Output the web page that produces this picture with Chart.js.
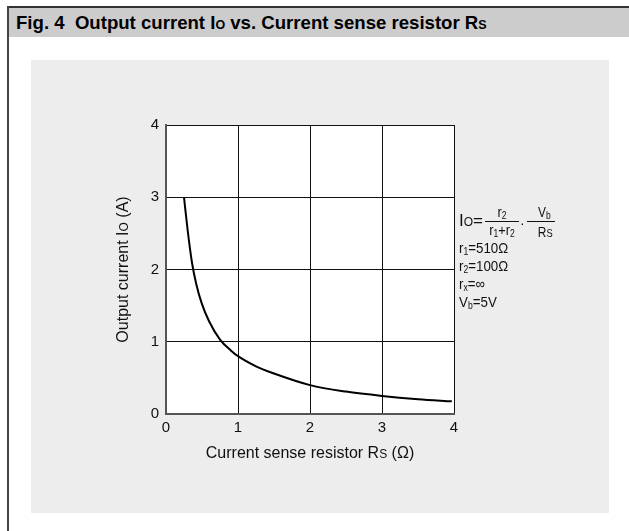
<!DOCTYPE html>
<html>
<head>
<meta charset="utf-8">
<script src="https://cdn.jsdelivr.net/npm/chart.js@4.4.1/dist/chart.umd.min.js"></script>
<style>
  html, body { margin: 0; padding: 0; background: #fff; width: 629px; height: 531px; overflow: hidden; }
  body { position: relative; font-family: "Liberation Sans", Arial, sans-serif; color: #111; }
  #topline { position: absolute; left: 7px; top: 6px; width: 622px; height: 2px; background: #333; }
  #leftline { position: absolute; left: 7px; top: 6px; width: 2px; height: 525px; background: #444; }
  #titlebar { position: absolute; left: 9px; top: 8px; width: 620px; height: 29px; background: #cccccc;
              font-weight: bold; font-size: 18.6px; line-height: 30px; color: #000; box-sizing: border-box; padding-left: 7px; white-space: pre; }
  #titlebar .s { font-size: 12.5px; }
  #panel { position: absolute; left: 31px; top: 60px; width: 578px; height: 453px; background: #ededed; }
  #panel canvas { position: absolute; left: 0; top: 0; }
  .a { position: absolute; white-space: nowrap; color: #111; }
  .a sub { font-size: 10px; vertical-align: baseline; position: relative; top: 2px; }
  .fr { font-size: 15px; line-height: 14px; text-align: center; transform: scaleX(0.85); }
  .fv { font-size: 14px; line-height: 14px; text-align: center; transform: scaleX(0.85); }
  .bar { position: absolute; height: 1px; background: #111; }
  .ln { font-size: 15.5px; line-height: 18px; transform: scaleX(0.86); transform-origin: 0 0; }
</style>
</head>
<body>
<div id="topline"></div>
<div id="leftline"></div>
<div id="titlebar">Fig. 4  Output current I<span class="s">O</span> vs. Current sense resistor R<span class="s">S</span></div>
<div id="panel"><canvas id="c" width="578" height="453"></canvas></div>

<!-- formula annotation -->
<div class="a" style="left:459px; top:211px; font-size:17px; line-height:20px;">I<span style="font-size:12px;">O</span>=</div>
<div class="a fr" style="left:485px; top:205px; width:34px;">r<sub>2</sub></div>
<div class="bar" style="left:485px; top:221px; width:34px;"></div>
<div class="a fr" style="left:482px; top:223px; width:40px;">r<sub>1</sub>+r<sub>2</sub></div>
<div class="a" style="left:520px; top:215px; font-size:14px; line-height:16px;">·</div>
<div class="a fv" style="left:527px; top:205px; width:28px; box-sizing:border-box; padding-left:8px;">V<sub>b</sub></div>
<div class="bar" style="left:527px; top:221px; width:28px;"></div>
<div class="a fv" style="left:527px; top:225px; width:28px; box-sizing:border-box; padding-left:10px;">R<span style="font-size:11px;">S</span></div>
<div class="a ln" style="left:459px; top:239px;">r<sub>1</sub>=510Ω</div>
<div class="a ln" style="left:459px; top:257px;">r<sub>2</sub>=100Ω</div>
<div class="a ln" style="left:459px; top:275px;">r<sub>x</sub>=∞</div>
<div class="a ln" style="left:459px; top:293px;">V<sub>b</sub>=5V</div>

<script>
// Data
const rsValues = [0.25, 0.30, 0.36, 0.42, 0.50, 0.60, 0.75, 0.90, 1.00, 1.25, 1.50, 2.00, 2.50, 3.00, 3.50, 3.97];
const ioValues = [3.00, 2.55, 2.10, 1.80, 1.52, 1.28, 1.03, 0.88, 0.80, 0.66, 0.56, 0.40, 0.31, 0.25, 0.205, 0.175];
const xTicks = [0, 1, 2, 3, 4];
const yTicks = [0, 1, 2, 3, 4];
const xTitleRuns = [["Current sense resistor R", 16], ["S", 12], [" (Ω)", 16]];
const yTitleRuns = [["Output current I", 16], ["O", 12], [" (A)", 16]];

const FONT = '"Liberation Sans", Arial, sans-serif';

function drawRuns(ctx, runs) {
  let total = 0;
  const widths = runs.map(r => { ctx.font = r[1] + 'px ' + FONT; const w = ctx.measureText(r[0]).width; total += w; return w; });
  let x = -total / 2;
  runs.forEach((r, i) => { ctx.font = r[1] + 'px ' + FONT; ctx.fillText(r[0], x, 0); x += widths[i]; });
}

const customPlugin = {
  id: 'custom',
  beforeDraw(chart) {
    const { ctx, chartArea: a } = chart;
    ctx.save();
    ctx.fillStyle = '#ffffff';
    ctx.fillRect(a.left, a.top, a.right - a.left, a.bottom - a.top);
    ctx.restore();
  },
  afterDraw(chart) {
    const { ctx, chartArea: a } = chart;
    ctx.save();
    ctx.fillStyle = '#111';
    ctx.textBaseline = 'alphabetic';
    ctx.translate((a.left + a.right) / 2, a.bottom + 44);
    drawRuns(ctx, xTitleRuns);
    ctx.restore();
    ctx.save();
    ctx.fillStyle = '#111';
    ctx.textBaseline = 'alphabetic';
    ctx.translate(a.left - 38, (a.top + a.bottom) / 2);
    ctx.rotate(-Math.PI / 2);
    drawRuns(ctx, yTitleRuns);
    ctx.restore();
  }
};

const points = rsValues.map((x, i) => ({ x, y: ioValues[i] }));

new Chart(document.getElementById('c'), {
  type: 'scatter',
  data: {
    datasets: [{
      data: points,
      showLine: true,
      borderColor: '#000',
      borderWidth: 2,
      pointRadius: 0,
      cubicInterpolationMode: 'monotone',
      fill: false
    }]
  },
  options: {
    responsive: false,
    animation: false,
    events: [],
    layout: { padding: { top: 65, right: 155, left: 0, bottom: 0 } },
    plugins: { legend: { display: false }, tooltip: { enabled: false }, title: { display: false } },
    scales: {
      x: {
        type: 'linear', min: 0, max: 4,
        afterBuildTicks: s => { s.ticks = xTicks.map(v => ({ value: v })); },
        afterFit: s => { s.height = 99; s.paddingLeft = 0; s.paddingRight = 0; },
        ticks: { font: { family: FONT, size: 15 }, color: '#111', padding: 5, maxRotation: 0 },
        grid: { color: '#111', lineWidth: 1, drawTicks: false },
        border: { display: true, color: '#555', width: 2 }
      },
      y: {
        type: 'linear', min: 0, max: 4,
        afterBuildTicks: s => { s.ticks = yTicks.map(v => ({ value: v })); },
        afterFit: s => { s.width = 135; s.paddingTop = 0; s.paddingBottom = 0; },
        ticks: { font: { family: FONT, size: 15 }, color: '#111', padding: 7 },
        grid: { color: '#111', lineWidth: 1, drawTicks: false },
        border: { display: true, color: '#555', width: 2 }
      }
    }
  },
  plugins: [customPlugin]
});
</script>
</body>
</html>
